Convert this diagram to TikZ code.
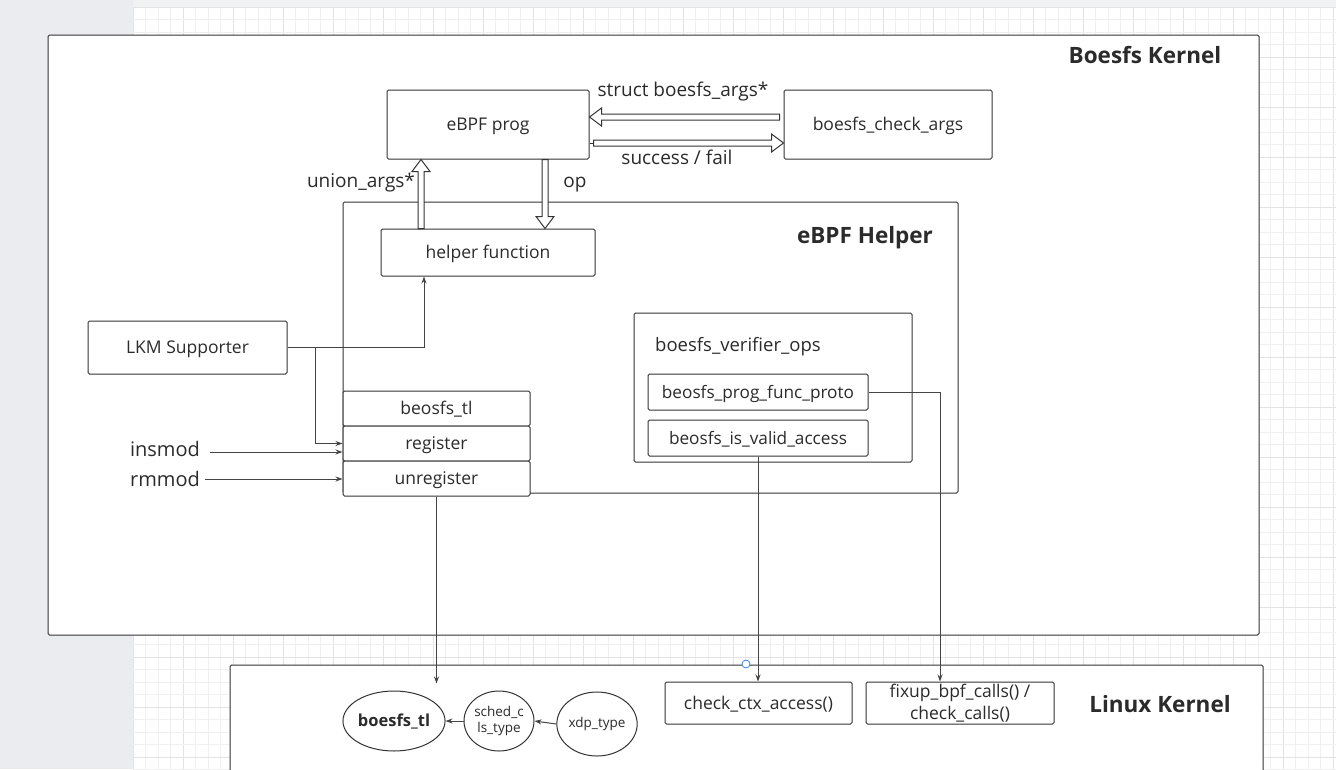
\documentclass[tikz,border=0pt]{standalone}
\usepackage{fontspec}
\setmainfont{Open Sans}
\usetikzlibrary{arrows.meta,calc,shapes.geometric}
\definecolor{ln}{HTML}{333333}
\definecolor{cn}{HTML}{444444}
\definecolor{txt}{HTML}{2B2B2B}
\definecolor{side}{HTML}{EBECEF}
\definecolor{topb}{HTML}{F1F2F4}
\definecolor{gmin}{HTML}{F0F0F0}
\definecolor{gmaj}{HTML}{E3E3E3}
\definecolor{handle}{HTML}{3B82F6}
\tikzset{
  boxc/.style={draw=ln, fill=white, line width=1pt, rounded corners=1.5pt, inner sep=0pt, text=txt, font=\fontsize{17.5}{22}\selectfont},
  box/.style={boxc, text height=12.5pt, text depth=0pt},
  oval/.style={ellipse, draw=ln, fill=white, line width=1pt, inner sep=0pt, text=txt, align=center},
  title/.style={font=\fontsize{22.5}{26}\selectfont\bfseries, text=txt, inner sep=0pt, text height=16pt, text depth=0pt},
  lbl/.style={font=\fontsize{19}{22}\selectfont, text=txt, inner sep=0pt, text height=13.6pt, text depth=0pt},
  conn/.style={draw=cn, line width=1pt, -{Stealth[length=7pt,width=5pt]}},
  hollow/.style={draw=ln, fill=white, line width=1pt, line join=miter}
}
\newcommand\hollowarrow[2]{%
  \coordinate (hb) at ($(#2)!12pt!(#1)$);
  \draw[hollow] ($(#1)!3pt!90:(#2)$) -- ($(hb)!3pt!-90:(#1)$) -- ($(hb)!9pt!-90:(#1)$) -- (#2)
    -- ($(hb)!9pt!90:(#1)$) -- ($(hb)!3pt!90:(#1)$) -- ($(#1)!3pt!-90:(#2)$) -- cycle;}
\begin{document}
\begin{tikzpicture}[x=1pt,y=-1pt]
\useasboundingbox (0,0) rectangle (1336,769);
% editor background
\fill[white] (0,0) rectangle (1336,769);
\foreach \i in {0,...,96} {
  \pgfmathtruncatemacro\m{mod(\i,4)}
  \ifnum\m=0 \draw[gmaj,line width=0.8pt] ({133+12.5*\i},7) -- ({133+12.5*\i},769);
  \else \draw[gmin,line width=0.8pt] ({133+12.5*\i},7) -- ({133+12.5*\i},769); \fi}
\foreach \j in {0,...,61} {
  \pgfmathtruncatemacro\m{mod(\j,4)}
  \ifnum\m=0 \draw[gmaj,line width=0.8pt] (133,{7+12.5*\j}) -- (1336,{7+12.5*\j});
  \else \draw[gmin,line width=0.8pt] (133,{7+12.5*\j}) -- (1336,{7+12.5*\j}); \fi}
\fill[side] (0,0) rectangle (133,769);
\fill[topb] (133,0) rectangle (1336,7);

% Boesfs Kernel
\node[box, minimum width=1211pt, minimum height=600pt] (bk) at (653.5,335) {};
\node[title] (bkt) at (1145,55) {Boesfs Kernel};

\node[box, minimum width=202pt, minimum height=69pt] (prog) at (488,124.5) {eBPF prog};
\node[box, minimum width=208pt, minimum height=69pt] (chk) at (888,124.5) {boesfs\_check\_args};

% eBPF Helper
\node[box, minimum width=615pt, minimum height=291pt] (eh) at (650.5,347.5) {};
\node[title] (eht) at (865,235) {eBPF Helper};
\node[box, minimum width=214pt, minimum height=47pt] (hf) at (488,252.5) {helper function};

\node[box, minimum width=199pt, minimum height=53pt] (lkm) at (187.5,347.5) {LKM Supporter};

\node[box, minimum width=187pt, minimum height=35pt] (tl) at (436.5,408.5) {beosfs\_tl};
\node[box, minimum width=187pt, minimum height=35pt] (reg) at (436.5,443.5) {register};
\node[box, minimum width=187pt, minimum height=35pt] (unreg) at (436.5,478.5) {unregister};

\node[box, minimum width=278pt, minimum height=149pt] (vops) at (773,387.5) {};
\node[lbl, anchor=west, font=\fontsize{18.5}{22}\selectfont, text height=13.2pt] (vopst) at (655,345) {boesfs\_verifier\_ops};
\node[box, minimum width=220pt, minimum height=36pt, font=\fontsize{17.2}{21}\selectfont] (proto) at (758,392) {beosfs\_prog\_func\_proto};
\node[box, minimum width=220pt, minimum height=36pt, font=\fontsize{17.2}{21}\selectfont] (valid) at (758,438) {beosfs\_is\_valid\_access};

% Linux Kernel
\node[box, minimum width=1033pt, minimum height=140pt] (lk) at (746.5,735) {};
\node[title] (lkt) at (1160,704) {Linux Kernel};
\node[box, minimum width=187pt, minimum height=42pt] (cca) at (758.5,703) {check\_ctx\_access()};
\node[boxc, minimum width=188pt, minimum height=42pt, align=center] (fix) at (960,703) {fixup\_bpf\_calls() /\\check\_calls()};
\node[oval, minimum width=94pt, minimum height=60pt, font=\fontsize{16.5}{19}\selectfont\bfseries] (e1) at (394,721) {boesfs\_tl};
\node[oval, minimum width=66pt, minimum height=60pt, font=\fontsize{13.5}{16}\selectfont] (e2) at (499,721) {sched\_c\\ls\_type};
\node[oval, minimum width=76pt, minimum height=64pt, font=\fontsize{13.5}{16}\selectfont] (e3) at (597,724) {xdp\_type};

% free-standing labels
\node[lbl] (slab) at (683,90) {struct boesfs\_args*};
\node[lbl] (flab) at (677,157.5) {success / fail};
\node[lbl] (ulab) at (361,181) {union\_args*};
\node[lbl] (olab) at (575,181) {op};
\node[lbl, font=\fontsize{20}{23}\selectfont, text height=14.3pt] (ins) at (165,449.5) {insmod};
\node[lbl, font=\fontsize{20}{23}\selectfont, text height=14.3pt] (rm) at (165,479.5) {rmmod};

% hollow arrows
\coordinate (s1) at ($(chk.west)+(-4,-7.5)$);
\coordinate (s2) at (s1 -| prog.east);
\hollowarrow{s1}{s2}
\coordinate (f1) at ($(prog.east)+(4,18.5)$);
\coordinate (f2) at (f1 -| chk.west);
\draw[ln, line width=1pt] (f1 -| prog.east) -- (f1);
\hollowarrow{f1}{f2}
\coordinate (u1) at ($(hf.north)+(-67,0)$);
\coordinate (u2) at (u1 |- prog.south);
\hollowarrow{u1}{u2}
\coordinate (o1) at ($(prog.south)+(57,0)$);
\coordinate (o2) at (o1 |- hf.north);
\hollowarrow{o1}{o2}

% thin connectors
\draw[conn] (lkm.east) -| ($(hf.south)+(-64,0)$);
\draw[conn] ($(lkm.east)+(28,0)$) |- (reg.west);
\coordinate (insend) at (210,452);
\draw[conn] (insend) -- (insend -| reg.west);
\coordinate (rmend) at (205,479);
\draw[conn] (rmend) -- (rmend -| unreg.west);
\draw[conn] (proto.east) -| ($(fix.north)+(-20,0)$);
\draw[conn] (valid.south) -- (valid.south |- cca.north);
\coordinate (tlin) at ($(unreg.south)+(0,187)$);
\draw[conn] (unreg.south) -- (tlin);
\draw[conn] (e3.west) -- (e2.east);
\draw[conn] (e2.west) -- (e1.east);

% editor selection handle
\node[circle, draw=handle, fill=white, line width=0.8pt, minimum size=8pt, inner sep=0pt] (hd) at (746,664) {};
\end{tikzpicture}
\end{document}
